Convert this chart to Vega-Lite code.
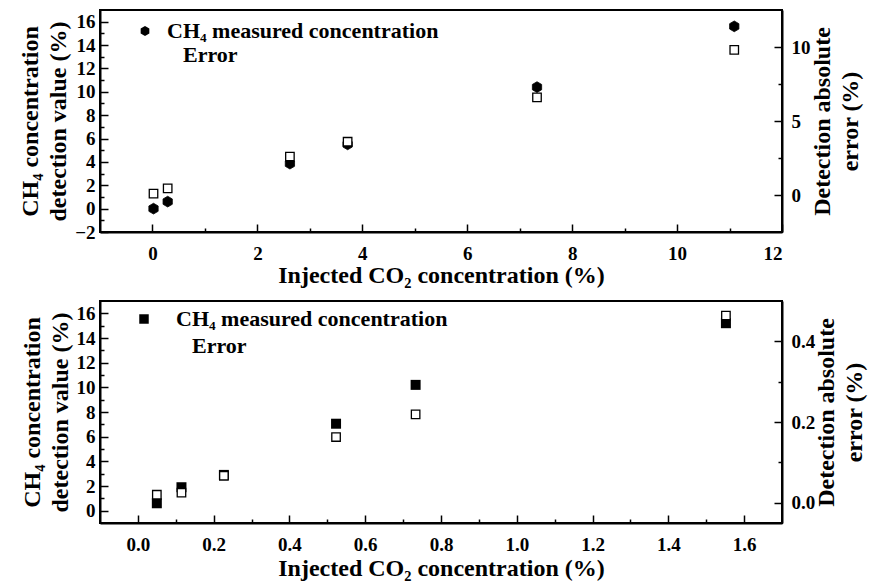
{
  "$schema": "https://vega.github.io/schema/vega-lite/v6.json",
  "padding": {"left": 17, "top": 9, "right": 5, "bottom": 2},
  "spacing": 12,
  "config": {
    "font": "Liberation Serif",
    "view": {"stroke": "black", "strokeWidth": 2},
    "axis": {
      "labelFont": "Liberation Serif", "labelFontSize": 19, "labelFontWeight": "bold", "labelColor": "black",
      "titleFont": "Liberation Serif", "titleFontSize": 24, "titleFontWeight": "bold", "titleColor": "black",
      "domainColor": "black", "domainWidth": 2, "tickColor": "black", "tickWidth": 1.5, "grid": false
    },
    "legend": {
      "labelFont": "Liberation Serif", "labelFontSize": 22, "labelFontWeight": "bold", "labelColor": "black", "labelLimit": 500,
      "symbolStrokeColor": "black", "symbolStrokeWidth": 1.3, "padding": 0
    }
  },
  "resolve": {"scale": {"shape": "independent", "fill": "independent"}, "legend": {"shape": "independent", "fill": "independent"}},
  "datasets": {
    "top": [
      {"series": "CH₄ measured concentration", "x": 0.02, "y": 0},
      {"series": "CH₄ measured concentration", "x": 0.29, "y": 0.6},
      {"series": "CH₄ measured concentration", "x": 2.62, "y": 3.85},
      {"series": "CH₄ measured concentration", "x": 3.72, "y": 5.5},
      {"series": "CH₄ measured concentration", "x": 7.33, "y": 10.4},
      {"series": "CH₄ measured concentration", "x": 11.09, "y": 15.6},
      {"series": "Error", "x": 0.02, "y": 0.09},
      {"series": "Error", "x": 0.29, "y": 0.45},
      {"series": "Error", "x": 2.62, "y": 2.6},
      {"series": "Error", "x": 3.72, "y": 3.6},
      {"series": "Error", "x": 7.33, "y": 6.6},
      {"series": "Error", "x": 11.09, "y": 9.8}
    ],
    "bottom": [
      {"series": "CH₄ measured concentration", "x": 0.05, "y": 0.6},
      {"series": "CH₄ measured concentration", "x": 0.115, "y": 1.9},
      {"series": "CH₄ measured concentration", "x": 0.227, "y": 2.9},
      {"series": "CH₄ measured concentration", "x": 0.523, "y": 7.05},
      {"series": "CH₄ measured concentration", "x": 0.733, "y": 10.2},
      {"series": "CH₄ measured concentration", "x": 1.552, "y": 15.2},
      {"series": "Error", "x": 0.05, "y": 0.02},
      {"series": "Error", "x": 0.115, "y": 0.025},
      {"series": "Error", "x": 0.227, "y": 0.067},
      {"series": "Error", "x": 0.523, "y": 0.163},
      {"series": "Error", "x": 0.733, "y": 0.219},
      {"series": "Error", "x": 1.552, "y": 0.464}
    ]
  },
  "vconcat": [
    {
      "width": 682, "height": 222,
      "data": {"name": "top"},
      "layer": [
        {
          "transform": [{"filter": "datum.series != 'Error'"}],
          "mark": {"type": "point", "filled": true, "size": 115, "stroke": "black", "strokeWidth": 0.8, "opacity": 1},
          "encoding": {
            "x": {"field": "x", "type": "quantitative", "scale": {"domain": [-1, 12], "nice": false, "zero": false},
              "axis": {"orient": "bottom", "values": [0, 2, 4, 6, 8, 10, 12], "tickSize": -8, "labelFontSize": 19, "labelPadding": 20, "title": "Injected CO₂ concentration (%)", "titleFontSize": 24, "titlePadding": 0}},
            "y": {"field": "y", "type": "quantitative", "scale": {"domain": [-2, 17], "nice": false, "zero": false},
              "axis": {"orient": "left", "values": [-2, 0, 2, 4, 6, 8, 10, 12, 14, 16], "tickSize": -8, "labelFontSize": 19, "labelPadding": 13, "title": ["CH₄ concentration", "detection value (%)"], "titleFontSize": 24, "titleLineHeight": 28, "titlePadding": 4}},
            "shape": {"field": "series", "type": "nominal",
              "scale": {"domain": ["CH₄ measured concentration", "Error"], "range": ["M0,-1L0.866,-0.5L0.866,0.5L0,1L-0.866,0.5L-0.866,-0.5Z", "square"]},
              "legend": {"title": null, "orient": "none", "legendX": 34, "legendY": 10, "symbolSize": 100, "labelOffset": 11, "rowPadding": 2, "labelFontSize": 22,
                "labelExpr": "datum.label == 'Error' ? '\u2800Error' : datum.label"}},
            "fill": {"field": "series", "type": "nominal",
              "scale": {"domain": ["CH₄ measured concentration", "Error"], "range": ["black", "white"]}, "legend": null}
          }
        },
        {
          "transform": [{"filter": "datum.series == 'Error'"}],
          "mark": {"type": "point", "filled": true, "size": 72, "stroke": "black", "strokeWidth": 1.3, "opacity": 1},
          "encoding": {
            "x": {"field": "x", "type": "quantitative", "scale": {"domain": [-1, 12], "nice": false, "zero": false}, "axis": null},
            "y": {"field": "y", "type": "quantitative", "scale": {"domain": [-2.5, 12.5], "nice": false, "zero": false},
              "axis": {"orient": "right", "values": [0, 5, 10], "tickSize": -8, "labelFontSize": 19, "labelPadding": 17, "title": ["Detection absolute", "error (%)"], "titleFontSize": 24, "titleLineHeight": 28, "titleAngle": -90, "titlePadding": -4}},
            "shape": {"field": "series", "type": "nominal", "scale": {"domain": ["CH₄ measured concentration", "Error"], "range": ["M0,-1L0.866,-0.5L0.866,0.5L0,1L-0.866,0.5L-0.866,-0.5Z", "square"]}},
            "fill": {"field": "series", "type": "nominal", "scale": {"domain": ["CH₄ measured concentration", "Error"], "range": ["black", "white"]}, "legend": null}
          }
        },
        {
          "transform": [{"filter": "datum.series != 'Error'"}],
          "mark": {"type": "point", "opacity": 0, "size": 0},
          "encoding": {
            "x": {"field": "x", "type": "quantitative", "scale": {"domain": [-1, 12], "nice": false, "zero": false},
              "axis": {"orient": "bottom", "values": [1, 3, 5, 7, 9, 11], "tickSize": -4, "labels": false, "domain": false, "title": null}},
            "y": {"field": "y", "type": "quantitative", "scale": {"domain": [-2, 17], "nice": false, "zero": false},
              "axis": {"orient": "left", "values": [-1, 1, 3, 5, 7, 9, 11, 13, 15], "tickSize": -4, "labels": false, "domain": false, "title": null}}
          }
        },
        {
          "transform": [{"filter": "datum.series == 'Error'"}],
          "mark": {"type": "point", "opacity": 0, "size": 0},
          "encoding": {
            "x": {"field": "x", "type": "quantitative", "scale": {"domain": [-1, 12], "nice": false, "zero": false}, "axis": null},
            "y": {"field": "y", "type": "quantitative", "scale": {"domain": [-2.5, 12.5], "nice": false, "zero": false},
              "axis": {"orient": "right", "values": [2.5, 7.5], "tickSize": -4, "labels": false, "domain": false, "title": null}}
          }
        }
      ],
      "resolve": {"scale": {"x": "independent", "y": "independent", "shape": "shared", "fill": "shared"}}
    },
    {
      "width": 682, "height": 222,
      "data": {"name": "bottom"},
      "layer": [
        {
          "transform": [{"filter": "datum.series != 'Error'"}],
          "mark": {"type": "point", "filled": true, "size": 100, "strokeWidth": 0, "opacity": 1},
          "encoding": {
            "x": {"field": "x", "type": "quantitative", "scale": {"domain": [-0.1, 1.7], "nice": false, "zero": false},
              "axis": {"orient": "bottom", "values": [0, 0.2, 0.4, 0.6, 0.8, 1.0, 1.2, 1.4, 1.6], "format": ".1f", "tickSize": -8, "labelFontSize": 19, "labelPadding": 20, "title": "Injected CO₂ concentration (%)", "titleFontSize": 24, "titlePadding": 2}},
            "y": {"field": "y", "type": "quantitative", "scale": {"domain": [-1, 17], "nice": false, "zero": false},
              "axis": {"orient": "left", "values": [0, 2, 4, 6, 8, 10, 12, 14, 16], "tickSize": -8, "labelFontSize": 19, "labelPadding": 13, "title": ["CH₄ concentration", "detection value (%)"], "titleFontSize": 24, "titleLineHeight": 28, "titlePadding": 4}},
            "shape": {"field": "series", "type": "nominal",
              "scale": {"domain": ["CH₄ measured concentration", "Error"], "range": ["square", "square"]},
              "legend": {"title": null, "orient": "none", "legendX": 33, "legendY": 7, "symbolSize": 90, "labelOffset": 21, "rowPadding": 5, "labelFontSize": 22,
                "labelExpr": "datum.label == 'Error' ? '\u2800Error' : datum.label"}},
            "fill": {"field": "series", "type": "nominal",
              "scale": {"domain": ["CH₄ measured concentration", "Error"], "range": ["black", "white"]}, "legend": null}
          }
        },
        {
          "transform": [{"filter": "datum.series == 'Error'"}],
          "mark": {"type": "point", "filled": true, "size": 72, "stroke": "black", "strokeWidth": 1.3, "opacity": 1},
          "encoding": {
            "x": {"field": "x", "type": "quantitative", "scale": {"domain": [-0.1, 1.7], "nice": false, "zero": false}, "axis": null},
            "y": {"field": "y", "type": "quantitative", "scale": {"domain": [-0.05, 0.5], "nice": false, "zero": false},
              "axis": {"orient": "right", "values": [0, 0.2, 0.4], "format": ".1f", "tickSize": -8, "labelFontSize": 19, "labelPadding": 17, "title": ["Detection absolute", "error (%)"], "titleFontSize": 24, "titleLineHeight": 28, "titleAngle": -90, "titlePadding": -4}},
            "shape": {"field": "series", "type": "nominal", "scale": {"domain": ["CH₄ measured concentration", "Error"], "range": ["square", "square"]}},
            "fill": {"field": "series", "type": "nominal", "scale": {"domain": ["CH₄ measured concentration", "Error"], "range": ["black", "white"]}, "legend": null}
          }
        },
        {
          "transform": [{"filter": "datum.series != 'Error'"}],
          "mark": {"type": "point", "opacity": 0, "size": 0},
          "encoding": {
            "x": {"field": "x", "type": "quantitative", "scale": {"domain": [-0.1, 1.7], "nice": false, "zero": false},
              "axis": {"orient": "bottom", "values": [0.1, 0.3, 0.5, 0.7, 0.9, 1.1, 1.3, 1.5], "tickSize": -4, "labels": false, "domain": false, "title": null}},
            "y": {"field": "y", "type": "quantitative", "scale": {"domain": [-1, 17], "nice": false, "zero": false},
              "axis": {"orient": "left", "values": [1, 3, 5, 7, 9, 11, 13, 15], "tickSize": -4, "labels": false, "domain": false, "title": null}}
          }
        },
        {
          "transform": [{"filter": "datum.series == 'Error'"}],
          "mark": {"type": "point", "opacity": 0, "size": 0},
          "encoding": {
            "x": {"field": "x", "type": "quantitative", "scale": {"domain": [-0.1, 1.7], "nice": false, "zero": false}, "axis": null},
            "y": {"field": "y", "type": "quantitative", "scale": {"domain": [-0.05, 0.5], "nice": false, "zero": false},
              "axis": {"orient": "right", "values": [0.1, 0.3], "tickSize": -4, "labels": false, "domain": false, "title": null}}
          }
        }
      ],
      "resolve": {"scale": {"x": "independent", "y": "independent", "shape": "shared", "fill": "shared"}}
    }
  ]
}
